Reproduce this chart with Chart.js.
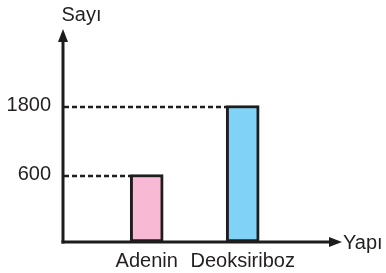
<!DOCTYPE html>
<html>
<head>
<meta charset="utf-8">
<script src="https://cdn.jsdelivr.net/npm/chart.js@4"></script>
<style>
html,body{margin:0;padding:0;background:#fff;}
#wrap{width:386px;height:273px;position:relative;}
</style>
</head>
<body>
<div id="wrap"><canvas id="c" width="386" height="273"></canvas></div>
<script>
const CATEGORIES = ['Adenin', 'Deoksiriboz'];
const VALUES = [600, 1800];
const Y_TICKS = [600, 1800];
const COLORS = ['#F7B9D4', '#80D3F6'];
const Y_TITLE = 'Sayı';
const X_TITLE = 'Yapı';

const Y_MIN = -574, Y_MAX = 3113;
const X_MIN = -0.872, X_MAX = 2.024;
const FONT = {family: '"Liberation Sans", Arial, sans-serif', size: 20};
const INK = '#1f1c1d';
const TEXT = '#231f20';

const decor = {
  id: 'decor',
  beforeDatasetsDraw(chart) {
    const {ctx, chartArea: a} = chart;
    const meta = chart.getDatasetMeta(0);
    ctx.save();
    ctx.strokeStyle = INK;
    ctx.lineWidth = 2.5;
    ctx.setLineDash([5, 3]);
    meta.data.forEach(bar => {
      const y = bar.y + 1.5;
      ctx.beginPath();
      ctx.moveTo(a.left + 1, y);
      ctx.lineTo(bar.x - bar.width / 2, y);
      ctx.stroke();
    });
    ctx.restore();
  },
  afterDatasetsDraw(chart) {
    const {ctx, chartArea: a} = chart;
    ctx.save();
    ctx.strokeStyle = INK;
    ctx.fillStyle = INK;
    ctx.lineWidth = 3;
    ctx.lineCap = 'butt';
    // y axis
    ctx.beginPath();
    ctx.moveTo(a.left, a.bottom + 1.5);
    ctx.lineTo(a.left, a.top + 8);
    ctx.stroke();
    ctx.beginPath();
    ctx.moveTo(a.left, a.top - 1);
    ctx.lineTo(a.left - 5, a.top + 12);
    ctx.lineTo(a.left + 5, a.top + 12);
    ctx.closePath();
    ctx.fill();
    // x axis
    ctx.beginPath();
    ctx.moveTo(a.left - 1.5, a.bottom);
    ctx.lineTo(a.right - 8, a.bottom);
    ctx.stroke();
    ctx.beginPath();
    ctx.moveTo(a.right + 1, a.bottom);
    ctx.lineTo(a.right - 12, a.bottom - 5);
    ctx.lineTo(a.right - 12, a.bottom + 5);
    ctx.closePath();
    ctx.fill();
    // titles
    ctx.font = FONT.size + 'px ' + FONT.family;
    ctx.fillStyle = TEXT;
    ctx.textAlign = 'center';
    ctx.textBaseline = 'alphabetic';
    ctx.fillText(Y_TITLE, a.left + 18.5, 21);
    ctx.textAlign = 'left';
    ctx.textBaseline = 'middle';
    ctx.fillText(X_TITLE, a.right + 2, a.bottom + 1);
    ctx.restore();
  }
};

new Chart(document.getElementById('c'), {
  type: 'bar',
  data: {
    datasets: [{
      data: VALUES.map((v, i) => ({x: i, y: v})),
      backgroundColor: COLORS,
      borderColor: INK,
      borderWidth: 3,
      borderSkipped: false,
      barThickness: 33,
      base: Y_MIN
    }]
  },
  options: {
    responsive: false,
    animation: false,
    devicePixelRatio: 1,
    layout: {padding: {left: 0, right: 45, top: 30, bottom: 0}},
    plugins: {legend: {display: false}, tooltip: {enabled: false}},
    scales: {
      x: {
        type: 'linear',
        offset: false,
        min: X_MIN, max: X_MAX,
        afterBuildTicks: s => { s.ticks = CATEGORIES.map((c, i) => ({value: i})); },
        afterFit: s => { s.height = 31; },
        grid: {display: false, drawTicks: false, offset: false},
        border: {display: false},
        ticks: {
          callback: v => CATEGORIES[v],
          font: FONT, color: TEXT, padding: 7,
          maxRotation: 0, autoSkip: false
        }
      },
      y: {
        min: Y_MIN, max: Y_MAX,
        afterBuildTicks: s => { s.ticks = Y_TICKS.map(v => ({value: v})); },
        afterFit: s => { s.width = 63; },
        grid: {display: false, drawTicks: false},
        border: {display: false},
        ticks: {font: FONT, color: TEXT, padding: 12, autoSkip: false,
          callback: v => String(v)}
      }
    }
  },
  plugins: [decor]
});
</script>
</body>
</html>
